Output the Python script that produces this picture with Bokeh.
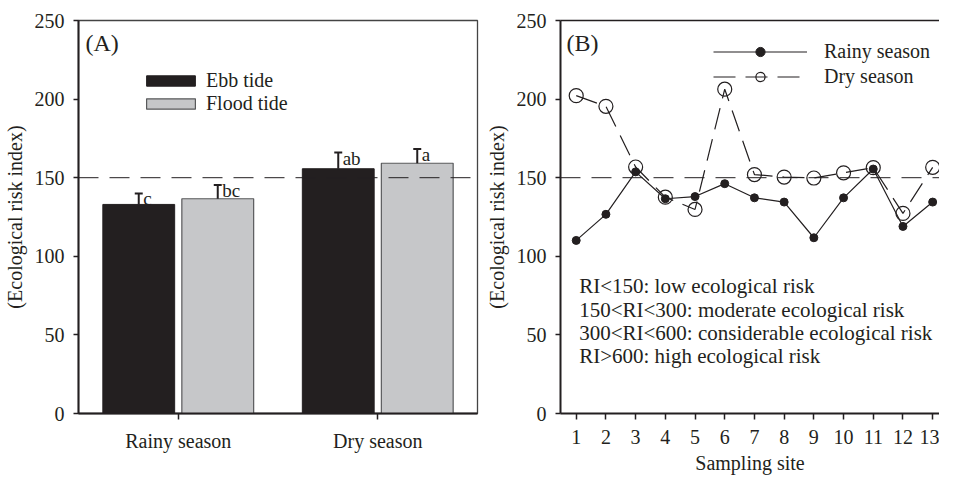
from bokeh.plotting import figure
from bokeh.models import (ColumnDataSource, Span, Label, Legend, LegendItem,
                          FixedTicker, Range1d, FactorRange, LinearAxis)
from bokeh.transform import dodge
from bokeh.layouts import row
from bokeh.core.properties import value
from bokeh.embed import file_html
from bokeh.resources import INLINE

# ---------------- data ----------------
categories = ["Rainy season", "Dry season"]
ebb_mean = [133.0, 155.7]
ebb_err = [7.0, 10.3]
flood_mean = [136.6, 159.2]
flood_err = [8.8, 9.1]
ebb_letters = ["c", "ab"]
flood_letters = ["bc", "a"]

sites = [1, 2, 3, 4, 5, 6, 7, 8, 9, 10, 11, 12, 13]
rainy_ri = [110.1, 126.7, 153.7, 136.6, 138.0, 146.2, 137.2, 134.5, 111.8, 137.2, 155.5, 119.0, 134.5]
dry_ri = [202.2, 195.4, 156.8, 137.6, 129.8, 206.3, 152.0, 150.4, 149.8, 153.1, 156.4, 127.3, 156.6]

y_ticks = [0, 50, 100, 150, 200, 250]
risk_notes = ["RI<150: low ecological risk",
              "150<RI<300: moderate ecological risk",
              "300<RI<600: considerable ecological risk",
              "RI>600: high ecological risk"]
threshold = 150

FONT = "Liberation Serif"
BLACK = "#231f20"
GREY = "#c6c7c9"

H = 476
BT, BB = 20, 61


def style_axes(p):
    for ax in p.xaxis + p.yaxis:
        ax.axis_line_width = 2
        ax.axis_line_color = BLACK
        ax.major_tick_line_width = 1.5
        ax.major_tick_line_color = BLACK
        ax.major_tick_in = 0
        ax.minor_tick_line_color = None
        ax.major_label_text_font = FONT
        ax.major_label_text_font_size = "20px"
        ax.major_label_text_color = BLACK
        ax.axis_label_text_font = FONT
        ax.axis_label_text_font_size = "20px"
        ax.axis_label_text_font_style = "normal"
        ax.axis_label_text_color = BLACK
    for ax in p.yaxis:
        ax.major_tick_out = 5
        ax.major_label_standoff = 9
        ax.axis_label_standoff = 6
    for ax in p.xaxis:
        ax.major_tick_out = 6
        ax.major_label_standoff = 10
        ax.axis_label_standoff = 5
    p.xgrid.grid_line_color = None
    p.ygrid.grid_line_color = None


# ---------------- panel A ----------------
pA = figure(x_range=FactorRange(factors=categories, range_padding=0),
            y_range=Range1d(0, 250), width=482, height=H,
            output_backend="svg", toolbar_location=None,
            min_border_left=72, min_border_right=5,
            min_border_top=BT, min_border_bottom=BB)
pA.outline_line_color = "#444444"
pA.outline_line_width = 1.3

srcA = ColumnDataSource(dict(
    cat=categories,
    ebb=ebb_mean, ebb_hi=[m + e for m, e in zip(ebb_mean, ebb_err)],
    ebb_txt_y=[m + e - 3.5 for m, e in zip(ebb_mean, ebb_err)],
    flood=flood_mean, flood_hi=[m + e for m, e in zip(flood_mean, flood_err)],
    flood_txt_y=[m + e - 3.5 for m, e in zip(flood_mean, flood_err)],
    ebb_lab=ebb_letters, flood_lab=flood_letters))

OFF = 0.198
BW = 0.36
CAP = 0.02

span_A = Span(location=threshold, dimension="width", line_color=BLACK,
              line_width=1, line_dash="20 11")
pA.add_layout(span_A)

r_ebb = pA.vbar(x=dodge("cat", -OFF, range=pA.x_range), top="ebb", width=BW,
                source=srcA, fill_color=BLACK, line_color=BLACK, line_width=1)
r_flood = pA.vbar(x=dodge("cat", OFF, range=pA.x_range), top="flood", width=BW,
                  source=srcA, fill_color=GREY, line_color="#58595b", line_width=1.2)

for off, lo, hi, ty, lab in [(-OFF, "ebb", "ebb_hi", "ebb_txt_y", "ebb_lab"),
                             (OFF, "flood", "flood_hi", "flood_txt_y", "flood_lab")]:
    pA.segment(x0=dodge("cat", off, range=pA.x_range), y0=lo,
               x1=dodge("cat", off, range=pA.x_range), y1=hi,
               source=srcA, line_color=BLACK, line_width=2)
    pA.segment(x0=dodge("cat", off - CAP, range=pA.x_range), y0=hi,
               x1=dodge("cat", off + CAP, range=pA.x_range), y1=hi,
               source=srcA, line_color=BLACK, line_width=2)
    pA.text(x=dodge("cat", off + 0.022, range=pA.x_range), y=ty, text=lab,
            source=srcA, text_font=value(FONT), text_font_size="19px",
            text_align="left", text_baseline="alphabetic", text_color=BLACK)

pA.yaxis.ticker = FixedTicker(ticks=y_ticks)
pA.yaxis.axis_label = "(Ecological risk index)"
style_axes(pA)

legA = Legend(items=[LegendItem(label="Ebb tide", renderers=[r_ebb]),
                     LegendItem(label="Flood tide", renderers=[r_flood])],
              location=(62, 298), glyph_width=61, glyph_height=13,
              label_height=20, spacing=0, padding=0, margin=0,
              label_standoff=5, border_line_color=None,
              background_fill_alpha=0, label_text_font=FONT,
              label_text_font_size="20px", label_text_color=BLACK)
pA.add_layout(legA)

pA.add_layout(Label(x=0.035, y=235.5, text="(A)", text_font=FONT,
                    text_font_size="24px", text_baseline="middle",
                    text_color=BLACK))

# ---------------- panel B ----------------
pB = figure(x_range=Range1d(0.471, 13.23), y_range=Range1d(0, 250),
            width=457, height=H, output_backend="svg", toolbar_location=None,
            min_border_left=71, min_border_right=0,
            min_border_top=BT, min_border_bottom=BB)
pB.outline_line_color = None

srcB = ColumnDataSource(dict(site=sites, rainy=rainy_ri, dry=dry_ri))

span_B = Span(location=threshold, dimension="width", line_color=BLACK,
              line_width=1, line_dash="20 11")
pB.add_layout(span_B)

d_line = pB.line("site", "dry", source=srcB, line_color=BLACK, line_width=1.2,
                 line_dash="22 10")
r_line = pB.line("site", "rainy", source=srcB, line_color=BLACK, line_width=1.2)
r_pts = pB.scatter("site", "rainy", source=srcB, size=8, marker="circle",
                   fill_color=BLACK, line_color=BLACK)
d_pts = pB.scatter("site", "dry", source=srcB, size=14, marker="circle",
                   fill_color="white", fill_alpha=0, line_color=BLACK, line_width=1.2)

pB.xaxis.ticker = FixedTicker(ticks=sites)
pB.yaxis.ticker = FixedTicker(ticks=y_ticks)
pB.xaxis.axis_label = "Sampling site"
pB.yaxis.axis_label = "(Ecological risk index)"
style_axes(pB)

# top border line only (the right side is cut off in the original)
top_ax = LinearAxis(ticker=FixedTicker(ticks=[]), axis_line_width=1.5,
                    axis_line_color=BLACK, major_label_text_font_size="0px",
                    major_tick_line_color=None, minor_tick_line_color=None,
                    major_tick_out=0, major_tick_in=0, major_label_standoff=0)
pB.add_layout(top_ax, "above")

legB = Legend(items=[LegendItem(label="Rainy season", renderers=[r_line, r_pts]),
                     LegendItem(label="Dry season", renderers=[d_line, d_pts])],
              location=(153, 325), glyph_width=94, glyph_height=23,
              label_height=20, spacing=2, padding=0, margin=0,
              label_standoff=17, border_line_color=None,
              background_fill_alpha=0, label_text_font=FONT,
              label_text_font_size="20px", label_text_color=BLACK)
pB.add_layout(legB)

pB.add_layout(Label(x=0.67, y=235.5, text="(B)", text_font=FONT,
                    text_font_size="24px", text_baseline="middle",
                    text_color=BLACK))
for i, note in enumerate(risk_notes):
    pB.add_layout(Label(x=1.1, y=81 - 14.9 * i, text=note, text_font=FONT,
                        text_font_size="21px", text_baseline="middle",
                        text_color=BLACK))

layout = row(pA, pB)
open("out.html", "w").write(file_html(layout, INLINE))
